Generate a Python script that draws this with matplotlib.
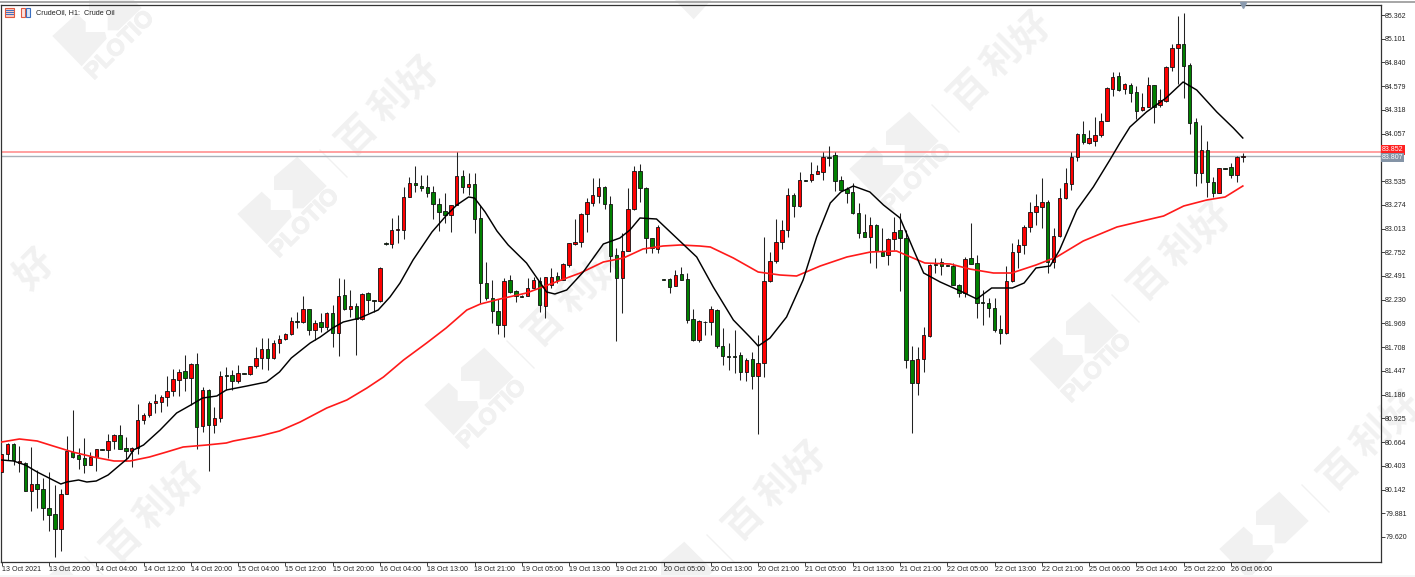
import matplotlib
matplotlib.use("Agg")
import matplotlib.pyplot as plt
import matplotlib.patheffects as pe
from matplotlib.patches import Polygon, Rectangle

plt.rcParams['font.family'] = ['Liberation Sans', 'DejaVu Sans']

opens = [80.335,80.533,80.643,80.434,80.434,80.126,80.203,80.148,79.939,79.873,79.708,80.093,80.555,80.522,80.489,80.412,80.500,80.588,80.577,80.676,
80.742,80.599,80.566,80.599,80.907,80.962,81.094,81.105,81.160,81.226,81.347,81.446,81.369,81.523,80.841,81.237,80.852,80.929,81.402,81.402,
81.336,81.424,81.413,81.501,81.589,81.688,81.589,81.754,81.798,81.853,81.996,81.985,82.128,81.897,81.985,81.930,82.084,81.864,82.282,82.128,
82.161,82.018,82.304,82.227,82.216,82.854,82.843,82.997,82.997,83.360,83.514,83.481,83.470,83.415,83.283,83.206,83.162,83.272,83.591,83.470,
83.503,83.129,82.414,82.249,82.106,81.952,82.447,82.326,82.271,82.271,82.359,82.436,82.161,82.392,82.491,82.447,82.612,82.843,82.865,83.173,
83.294,83.371,83.470,83.283,82.722,82.469,82.766,83.228,83.646,83.459,82.909,82.788,82.458,82.458,82.381,82.513,82.458,82.018,81.787,81.985,
81.985,82.117,81.721,81.611,81.611,81.622,81.435,81.578,81.391,81.534,82.436,82.656,82.865,82.997,83.382,83.261,83.547,83.547,83.613,83.635,
83.800,83.822,83.547,83.448,83.415,83.184,82.975,82.920,83.052,82.755,82.722,82.898,82.997,82.909,81.567,81.314,81.578,81.831,82.623,82.645,
82.612,82.601,82.392,82.304,82.689,82.634,82.205,82.194,82.139,81.908,81.864,82.436,82.755,82.832,83.030,83.195,83.250,83.305,82.645,82.931,
83.349,83.503,83.800,84.053,83.954,83.976,84.042,84.196,84.548,84.691,84.548,84.592,84.515,84.317,84.350,84.592,84.372,84.416,84.790,85.000,
85.043,84.812,84.185,83.624,83.877,83.525,83.404,83.679,83.690,83.602,83.800]
highs = [80.533,80.654,80.654,80.621,80.445,80.610,80.357,80.269,80.335,80.192,80.148,80.731,81.017,80.599,80.709,80.555,80.588,80.588,80.753,80.753,
80.852,80.720,80.610,81.083,80.984,81.116,81.193,81.182,81.391,81.468,81.468,81.622,81.534,81.644,81.270,81.248,81.050,81.446,81.490,81.457,
81.512,81.424,81.501,81.710,81.809,81.809,81.787,81.842,81.864,82.040,82.095,82.271,82.128,82.007,82.084,82.095,82.172,82.469,82.458,82.337,
82.194,82.304,82.315,82.227,82.590,82.865,83.129,83.162,83.470,83.580,83.701,83.602,83.602,83.481,83.349,83.404,83.272,83.855,83.657,83.624,
83.624,83.272,82.645,82.447,82.238,82.469,82.502,82.337,82.282,82.469,82.480,82.480,82.480,82.579,82.535,82.634,82.854,83.118,83.184,83.349,
83.569,83.569,83.481,83.371,82.799,82.964,83.459,83.701,83.723,83.470,82.909,83.052,82.458,82.469,82.557,82.590,82.524,82.128,82.007,81.996,
82.161,82.128,81.919,81.754,81.897,81.655,81.589,81.655,81.842,82.920,82.755,83.118,83.107,83.459,83.404,83.635,83.547,83.745,83.712,83.855,
83.921,83.855,83.591,83.470,83.514,83.294,83.173,83.140,83.063,83.019,82.909,83.140,83.184,82.997,81.721,81.710,81.930,82.623,82.689,82.689,
82.612,82.634,82.403,82.700,83.074,82.722,82.337,82.249,82.249,82.062,82.601,82.854,82.898,83.052,83.305,83.393,83.569,83.327,83.019,83.459,
83.679,83.855,84.064,84.196,84.097,84.240,84.284,84.570,84.735,84.735,84.614,84.614,84.581,84.504,84.680,84.592,84.548,84.801,85.043,85.351,
85.384,84.834,84.229,84.152,83.976,83.580,83.679,83.679,83.734,83.811,83.844]
lows = [80.335,80.467,80.412,80.335,80.126,79.906,79.939,79.807,79.686,79.400,79.466,80.093,80.489,80.368,80.324,80.412,80.346,80.577,80.489,80.588,
80.588,80.456,80.390,80.533,80.863,80.940,80.984,80.995,81.061,81.171,81.171,81.226,81.072,80.588,80.775,80.346,80.764,80.885,81.237,81.237,
81.314,81.418,81.402,81.479,81.468,81.457,81.578,81.644,81.787,81.842,81.919,81.974,81.842,81.787,81.875,81.897,81.710,81.611,82.117,82.040,
81.622,82.007,82.084,82.095,82.205,82.832,82.799,82.854,82.898,83.360,83.415,83.426,83.360,83.118,82.986,83.074,82.975,83.272,83.404,83.382,
82.964,82.194,82.227,81.974,81.853,81.820,82.304,82.205,82.260,82.271,82.359,82.095,82.029,82.359,82.414,82.447,82.590,82.832,82.810,82.975,
83.261,83.294,83.228,82.535,81.776,82.084,82.766,83.217,83.305,82.744,82.744,82.744,82.452,82.304,82.381,82.447,81.974,81.776,81.765,81.842,
81.842,81.699,81.512,81.457,81.424,81.347,81.336,81.248,80.753,81.380,82.425,82.634,82.788,82.920,83.140,83.250,83.541,83.525,83.613,83.547,
83.701,83.426,83.437,83.294,83.173,82.909,82.920,82.634,82.579,82.711,82.612,82.777,82.326,81.479,80.764,81.182,81.435,81.820,82.524,82.502,
82.606,82.392,82.260,82.260,82.623,82.029,81.952,82.040,81.875,81.743,81.853,82.425,82.579,82.733,82.975,83.052,83.019,82.524,82.579,82.920,
83.338,83.437,83.756,83.943,83.943,83.921,84.020,84.196,84.471,84.526,84.493,84.405,84.218,84.306,84.350,84.174,84.350,84.405,84.746,84.603,
84.449,84.053,83.481,83.514,83.360,83.360,83.404,83.673,83.569,83.525,83.745]
closes = [80.533,80.643,80.467,80.456,80.126,80.203,80.148,79.939,79.862,79.708,80.093,80.566,80.500,80.478,80.412,80.500,80.588,80.577,80.676,80.742,
80.588,80.566,80.599,80.907,80.962,81.094,81.116,81.160,81.226,81.358,81.435,81.369,81.523,80.830,81.237,80.852,80.929,81.391,81.396,81.336,
81.424,81.418,81.501,81.589,81.688,81.589,81.754,81.798,81.853,81.996,81.990,82.128,81.897,81.974,81.930,82.084,81.864,82.271,82.128,82.161,
82.018,82.293,82.227,82.221,82.579,82.848,82.997,83.008,83.360,83.514,83.492,83.459,83.404,83.283,83.195,83.162,83.272,83.591,83.470,83.503,
83.118,82.414,82.249,82.106,81.952,82.436,82.315,82.271,82.265,82.359,82.447,82.172,82.480,82.480,82.447,82.623,82.854,82.865,83.173,83.305,
83.382,83.470,83.283,82.711,82.469,82.766,83.228,83.646,83.459,82.909,82.799,83.030,82.452,82.370,82.502,82.447,82.007,81.787,81.996,81.980,
82.128,81.721,81.611,81.605,81.605,81.435,81.567,81.391,81.534,82.436,82.656,82.865,82.997,83.382,83.261,83.547,83.541,83.613,83.646,83.800,
83.794,83.536,83.437,83.404,83.184,82.964,82.920,83.052,82.766,82.711,82.898,82.975,82.909,81.567,81.314,81.578,81.842,82.612,82.617,82.601,
82.606,82.392,82.304,82.678,82.623,82.194,82.199,82.139,81.897,81.864,82.436,82.755,82.832,83.030,83.195,83.261,83.305,82.645,82.931,83.349,
83.514,83.800,84.053,83.965,84.009,84.042,84.196,84.559,84.680,84.537,84.603,84.504,84.306,84.350,84.592,84.350,84.427,84.790,85.000,85.043,
84.801,84.174,83.624,83.877,83.525,83.404,83.679,83.673,83.602,83.800,83.807]

ma_fast_x = [0,2,4,6,8,10,11,13,14.4,16,18,20,21.4,22.3,24,26.8,29.6,32,34,36.4,38,41.5,44.8,47,49,52.2,53.9,56,57.8,60.6,63.7,65.7,67.4,69.6,72.8,75.3,77,79,80,81.8,83.8,85.7,88.8,90.8,92.2,93.6,95.6,98.4,101.8,104.6,106.3,108,110.8,114.2,117.6,120.4,123.8,126.6,128,130,132.8,135.6,137.9,140.2,142,144.1,146.9,149.2,152,154.3,156,158.8,162.2,165,167.5,171,173,175,177.4,179,181.9,184.7,187.5,189.2,190.9,193.7,197,199.9,202.2,205.6,208.4,210]
ma_fast = [80.467,80.456,80.412,80.335,80.269,80.203,80.225,80.247,80.225,80.236,80.302,80.412,80.489,80.577,80.632,80.797,80.984,81.072,81.149,81.171,81.237,81.281,81.325,81.435,81.589,81.754,81.820,81.919,81.985,82.029,82.117,82.260,82.414,82.667,82.975,83.162,83.272,83.360,83.349,83.195,82.986,82.832,82.634,82.447,82.315,82.293,82.337,82.535,82.843,82.909,82.997,83.129,83.118,82.909,82.700,82.370,82.007,81.820,81.721,81.809,82.040,82.447,82.920,83.294,83.415,83.481,83.415,83.272,83.129,82.777,82.524,82.425,82.326,82.238,82.359,82.359,82.414,82.579,82.601,82.777,83.217,83.470,83.767,83.954,84.130,84.295,84.449,84.625,84.537,84.295,84.119,84.009]
ma_slow_x = [0,3,6,8.7,12,15.5,19,21.7,25,27.9,30.7,34.7,38,39.2,43.7,47,50.5,55,58.4,61.8,64.6,68,71.9,75.2,78.7,81,84.3,88.8,93.3,97.9,101.8,105.2,108.5,111.9,114.8,118.1,119.9,123.8,128,131.7,134.5,138.5,143,147,151.4,156.2,160.5,163.8,167.8,170.9,175,178.5,183,188.7,193.7,196.6,200,203.9,207,210]
ma_slow = [80.665,80.698,80.676,80.621,80.555,80.500,80.456,80.456,80.500,80.555,80.610,80.632,80.654,80.676,80.731,80.786,80.885,81.039,81.127,81.259,81.380,81.567,81.754,81.919,82.117,82.183,82.238,82.304,82.414,82.524,82.645,82.689,82.788,82.821,82.832,82.821,82.810,82.689,82.535,82.502,82.491,82.601,82.700,82.755,82.766,82.634,82.623,82.568,82.524,82.524,82.612,82.700,82.876,83.030,83.107,83.151,83.261,83.327,83.360,83.481]

price_ticks = [85.362,85.101,84.840,84.579,84.318,84.057,83.535,83.274,83.013,82.752,82.491,82.230,81.969,81.708,81.447,81.186,80.925,80.664,80.403,80.142,79.881,79.620]
time_labels = ["13 Oct 2021","13 Oct 20:00","14 Oct 04:00","14 Oct 12:00","14 Oct 20:00","15 Oct 04:00","15 Oct 12:00","15 Oct 20:00","16 Oct 04:00","18 Oct 13:00","18 Oct 21:00","19 Oct 05:00","19 Oct 13:00","19 Oct 21:00","20 Oct 05:00","20 Oct 13:00","20 Oct 21:00","21 Oct 05:00","21 Oct 13:00","21 Oct 21:00","22 Oct 05:00","22 Oct 13:00","22 Oct 21:00","25 Oct 06:00","25 Oct 14:00","25 Oct 22:00","26 Oct 06:00"]
bid_price = 83.852
last_price = 83.807
title = "CrudeOil, H1:  Crude Oil"

W, H = 1415, 577
fig = plt.figure(figsize=(W/100, H/100), dpi=100, facecolor='white')

# background layer in pixel coordinates (watermark, window chrome)
bg = fig.add_axes([0, 0, 1, 1], zorder=0)
bg.set_xlim(0, W); bg.set_ylim(H, 0); bg.axis('off')
WM = '#f1f1f1'
anchors = [(98,22),(283,200),(470,391),(670,585),(710,-25),(895,155),(1075,345),(1265,535),(48,607),(-102,392)]
def inside(x, y):
    return 12 < x < W-12 and 12 < y < H-12
for ax0, ay0 in anchors:
    for pts in ([(-45.7,14),(-21.3,-8.3),(-12.3,0),(-12.3,10),(7,10),(8.7,16.7),(-16.3,44.3)],
                [(-9,-23.3),(14.3,-43.3),(43.7,-14),(20.3,8.3),(9.7,8.3),(9.7,-10),(-9,-10)]):
        bg.add_patch(Polygon([(ax0+a, ay0+b) for a, b in pts], closed=True, fc=WM, ec='none'))
    if 40 < ax0+22 < W-40 and 40 < ay0+23 < H-40:
        bg.text(ax0+22, ay0+23, "PLOTIO", rotation=45, rotation_mode='anchor', ha='center', va='center',
                fontsize=16.8, fontweight='bold', color=WM,
                path_effects=[pe.withStroke(linewidth=0.8, foreground=WM)])
    bg.plot([ax0+37, ax0+64], [ay0-50, ay0-23], color=WM, lw=1)
    for ch, dx, dy in (("百",74,-65),("利",107,-97),("好",137,-122)):
        if inside(ax0+dx, ay0+dy):
            bg.text(ax0+dx, ay0+dy, ch, rotation=45, rotation_mode='anchor', ha='center', va='center',
                    fontsize=28, fontweight='bold', color=WM, family=['Noto Sans CJK SC'])
# window chrome
bg.add_patch(Rectangle((0, 1), W, 2, fc='#a8a8a8', ec='none', zorder=6))
bg.add_patch(Rectangle((0, 575), W, 2, fc='#f6f6f6', ec='none', zorder=6))
# toolbar icons
bg.add_patch(Rectangle((4.5, 8), 9.5, 8.5, fc='#f8c8c0', ec='#e05a40', lw=0.8, zorder=6))
for yy in (10.2, 12.3, 14.4):
    bg.plot([6, 13], [yy, yy], color='#3a6fc0', lw=0.7, zorder=7)
bg.add_patch(Rectangle((21, 8), 4.2, 8.5, fc='#fbe3e0', ec='#e05a40', lw=0.8, zorder=6))
bg.add_patch(Rectangle((26, 8), 4.2, 8.5, fc='#dde8f8', ec='#3a6fc0', lw=0.8, zorder=6))

# main chart
L, R, T, B = 1.3, 1380.7, 4.5, 561.5
ax = fig.add_axes([L/W, 1-B/H, (R-L)/W, (B-T)/H], zorder=1)
ax.patch.set_visible(False)
ax.set_xlim((L-1.7)/5.91, (R-1.7)/5.91)
ax.set_ylim(85.527-0.011*B, 85.527-0.011*T)

n = len(opens)
xs = list(range(n))
ax.vlines(xs, lows, highs, color='#222222', lw=0.75, zorder=3)
ax.bar(xs, [c-o for o, c in zip(opens, closes)], bottom=opens, width=0.58,
       color=['#ff0000' if c >= o else '#008000' for o, c in zip(opens, closes)],
       edgecolor='#111111', linewidth=0.6, zorder=4)

ax.axhline(bid_price, color='#ff9090', lw=1.2, zorder=2)
ax.axhline(last_price, color='#a8b0b8', lw=1.0, zorder=2)
ax.plot(ma_slow_x, ma_slow, color='#ff1a1a', lw=1.2, zorder=5, solid_joinstyle='round')
ax.plot(ma_fast_x, ma_fast, color='#000000', lw=1.05, zorder=6, solid_joinstyle='round')
ax.plot([210], [85.527-0.011*5], marker='v', ms=5, color='#8a9aae', clip_on=False, zorder=7)

for s in ('left', 'right', 'top', 'bottom'):
    ax.spines[s].set_color('#333333'); ax.spines[s].set_linewidth(0.9)

ax.yaxis.tick_right()
ax.set_yticks(price_ticks)
ax.set_yticklabels([f"{p:.3f}" for p in price_ticks])
ax.tick_params(axis='y', length=3, width=0.6, pad=0.2, labelsize=5.0, colors='#222222')
ax.set_xticks(list(range(0, 8*len(time_labels), 8)))
ax.set_xticklabels(time_labels, ha='left')
ax.tick_params(axis='x', length=3, width=0.6, pad=0.5, labelsize=5.1, colors='#222222')

ax.text(1.0008, bid_price+0.025, f"{bid_price:.3f}", transform=ax.get_yaxis_transform(), color='white', fontsize=5.0,
        va='center', ha='left', bbox=dict(fc='#ff2020', ec='none', pad=0.8), clip_on=False, zorder=8)
ax.text(1.0008, last_price-0.01, f"{last_price:.3f}", transform=ax.get_yaxis_transform(), color='white', fontsize=5.0,
        va='center', ha='left', bbox=dict(fc='#8494a6', ec='none', pad=0.8), clip_on=False, zorder=9)
bg.text(36, 12.5, title, fontsize=5.2, color='#222222', va='center', ha='left', zorder=7)

fig.savefig("out.png", dpi=100)
